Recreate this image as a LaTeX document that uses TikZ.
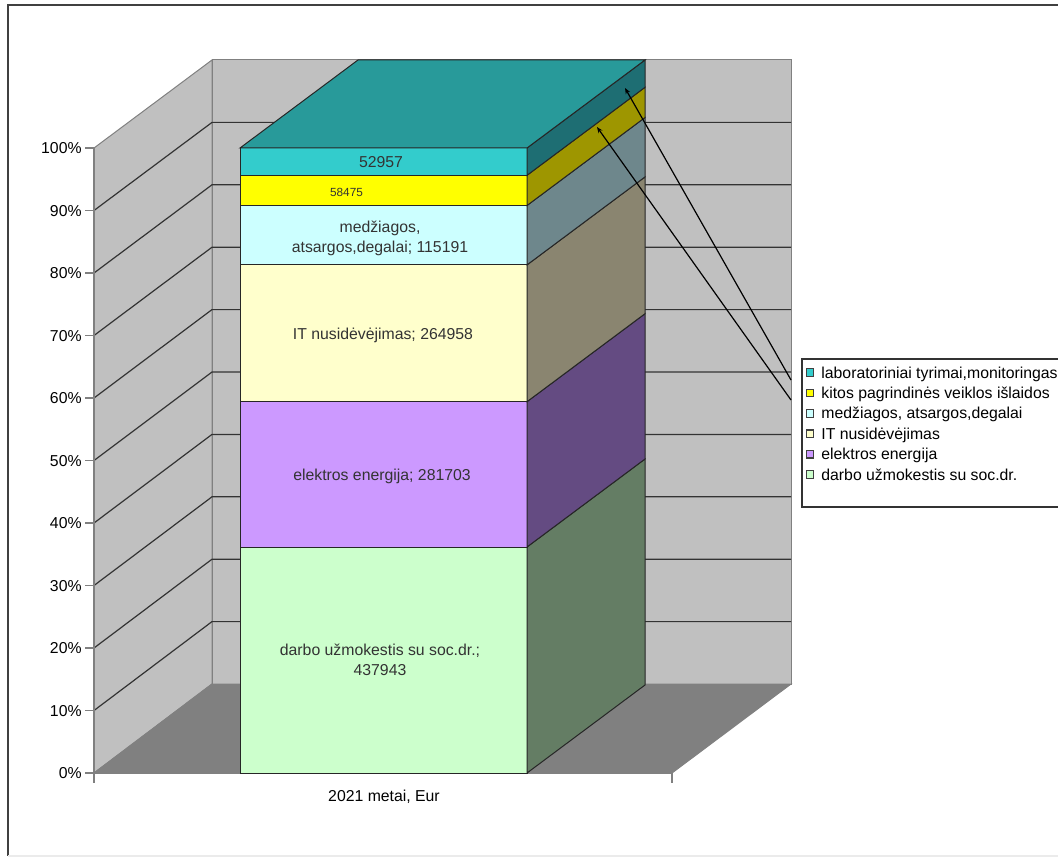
\documentclass[tikz,border=0pt]{standalone}
\usepackage{fontspec}
\setmainfont{Liberation Sans}
\usetikzlibrary{arrows.meta}

\definecolor{wallgray}{HTML}{C0C0C0}
\definecolor{floorgray}{HTML}{808080}
\definecolor{labfront}{HTML}{33CCCC}
\definecolor{labtop}{HTML}{289A9A}
\definecolor{labside}{HTML}{1E6E73}
\definecolor{kitfront}{HTML}{FFFF00}
\definecolor{kitside}{HTML}{9E9600}
\definecolor{medfront}{HTML}{CCFFFF}
\definecolor{medside}{HTML}{6E878C}
\definecolor{itfront}{HTML}{FFFFCC}
\definecolor{itside}{HTML}{8A8570}
\definecolor{elfront}{HTML}{CC99FF}
\definecolor{elside}{HTML}{644B82}
\definecolor{darfront}{HTML}{CCFFCC}
\definecolor{darside}{HTML}{647D64}

\tikzset{
  wall/.style={fill=wallgray, draw=floorgray, line width=0.5pt},
  floorpanel/.style={fill=floorgray, draw=floorgray, line width=0.5pt},
  gridline/.style={draw=black!80, line width=0.6pt},
  axisline/.style={draw=floorgray, line width=0.6pt},
  seg/.style={draw=black!85, line width=0.5pt},
  leader/.style={draw=black, line width=0.6pt, -{Stealth[length=3pt, width=2.4pt]}},
  key/.style={draw=black!75, line width=0.6pt, minimum size=3.8pt},
}

\begin{document}
\begin{tikzpicture}[x=0.5pt, y=-0.5pt,
  every node/.style={font=\fontsize{7.9}{10}\selectfont, inner sep=0pt}]
\useasboundingbox (0,0) rectangle (1058,861);
% outer frame of the chart area
\draw[black!75, line width=0.6pt] (1058,5) -- (8,5) -- (8,856);
\draw[black!8, line width=0.6pt] (8,856) -- (1058,856);

% walls, floor and gridlines
\draw[wall] (94,148) -- (212,60) -- (212,684) -- (94,773) -- cycle;
\draw[wall] (212,60) rectangle (791,684);
\draw[floorpanel] (94,773) -- (212,684) -- (791,684) -- (672,773) -- cycle;
\foreach \k in {1,...,9}
  \draw[gridline] (94,{773-62.5*\k}) -- (212,{684-62.4*\k}) -- (791,{684-62.4*\k});

% axes
\draw[axisline] (94,148) -- (94,783);
\draw[axisline] (94,773) -- (672,773) -- (672,783);
\foreach \k [evaluate=\k as \p using int(10*\k)] in {0,...,10}{
  \draw[axisline] (85,{773-62.5*\k}) -- (94,{773-62.5*\k});
  \node[anchor=base east] (ytick\k) at (82,{778.6-62.5*\k}) {\p\%};
}
\node[anchor=base] (xlabel) at (384,801) {2021 metai, Eur};

% the stacked bar: front and right faces, then the top
\foreach \lo/\hi/\fr/\sd in {773/547.0/darfront/darside, 547.0/401.7/elfront/elside,
    401.7/264.9/itfront/itside, 264.9/205.5/medfront/medside,
    205.5/175.3/kitfront/kitside, 175.3/148/labfront/labside}{
  \draw[seg, fill=\fr] (240,\lo) rectangle (527,\hi);
  \draw[seg, fill=\sd] (527,\lo) -- ++(118,-88) -- (645,{\hi-88}) -- (527,\hi) -- cycle;
}
\draw[seg, fill=labtop] (240,148) -- (358,60) -- (645,60) -- (527,148) -- cycle;

% data labels
\node[anchor=base, text=black!80] (labval) at (381,167.5) {52957};
\node[anchor=base, text=black!80, font=\fontsize{5.9}{7}\selectfont] (kitval) at (346.5,197) {58475};
\node[align=center, text=black!80] (medval) at (380,238) {medžiagos,\\atsargos,degalai; 115191};
\node[anchor=base, text=black!80] (itval) at (383,339) {IT nusidėvėjimas; 264958};
\node[anchor=base, text=black!80] (elval) at (382,480) {elektros energija; 281703};
\node[align=center, text=black!80] (darval) at (380,660) {darbo užmokestis su soc.dr.;\\437943};

% leader lines
\coordinate (labend) at (791,380);
\coordinate (kitend) at (791,400);
\coordinate (labtip) at (625,88);
\coordinate (kittip) at (597,127);
\draw[leader] (labend) -- (labtip);
\draw[leader] (kitend) -- (kittip);

% legend
\draw[black!80, line width=0.6pt, fill=white] (802,359) rectangle (1070,507);
\foreach \i/\c/\t in {0/labfront/{laboratoriniai tyrimai,monitoringas},
    1/kitfront/{kitos pagrindinės veiklos išlaidos},
    2/medfront/{medžiagos, atsargos,degalai},
    3/itfront/{IT nusidėvėjimas},
    4/elfront/{elektros energija},
    5/darfront/{darbo užmokestis su soc.dr.}}{
  \node[key, fill=\c] (key\i) at (810,{372.5+20.4*\i}) {};
  \node[anchor=base west] (leg\i) at (821,{378+20.4*\i}) {\t};
}
\end{tikzpicture}
\end{document}
